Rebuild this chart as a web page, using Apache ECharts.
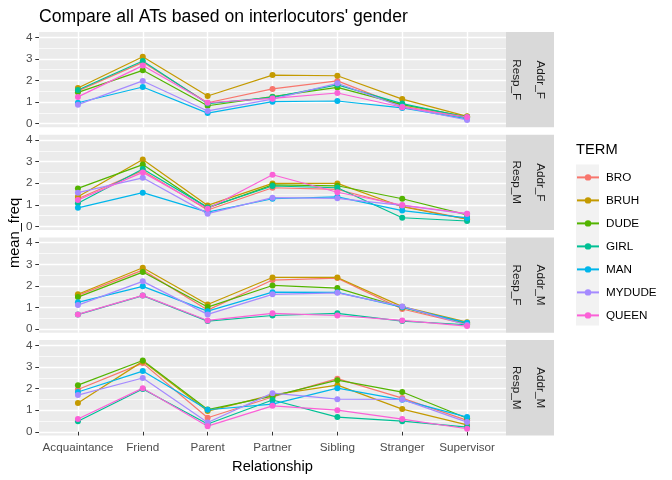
<!DOCTYPE html>
<html lang="en">
<head>
    <meta charset="UTF-8">
    <title>Compare all ATs</title>
    <script src="https://cdn.jsdelivr.net/npm/echarts@6/dist/echarts.min.js"></script>
    <style>
        body { margin: 0; background: #ffffff; }
        #chart { width: 672px; height: 480px; }
    </style>
</head>
<body>
    <div id="chart"></div>
    <script>
        // categories on the x axis
        const relationships = ['Acquaintance', 'Friend', 'Parent', 'Partner', 'Sibling', 'Stranger', 'Supervisor'];
        const terms = ['BRO', 'BRUH', 'DUDE', 'GIRL', 'MAN', 'MYDUDE', 'QUEEN'];
        const termColors = ['#F8766D', '#C49A00', '#53B400', '#00C094', '#00B6EB', '#A58AFF', '#FB61D7'];
        const yTicks = [0, 1, 2, 3, 4];
        const yMinorTicks = [0.5, 1.5, 2.5, 3.5];

        // facet strips: [Resp, Addr]
        const facets = [['Resp_F', 'Addr_F'], ['Resp_M', 'Addr_F'], ['Resp_F', 'Addr_M'], ['Resp_M', 'Addr_M']];

        // mean_freq per term, one array per facet (order of relationships)
        const addrF_respF = {
            BRO:    [1.52, 2.84, 0.97, 1.61, 1.98, 0.82, 0.27],
            BRUH:   [1.65, 3.10, 1.28, 2.25, 2.22, 1.14, 0.34],
            DUDE:   [1.45, 2.47, 0.83, 1.25, 1.68, 0.88, 0.32],
            GIRL:   [1.56, 2.90, 0.93, 1.22, 1.80, 0.93, 0.29],
            MAN:    [0.97, 1.70, 0.49, 1.02, 1.05, 0.73, 0.22],
            MYDUDE: [0.88, 1.98, 0.59, 1.14, 1.87, 0.78, 0.17],
            QUEEN:  [1.24, 2.69, 0.97, 1.17, 1.42, 0.76, 0.31]
        };
        const addrF_respM = {
            BRO:    [1.28, 2.58, 0.76, 1.79, 1.71, 0.94, 0.34],
            BRUH:   [1.37, 3.10, 0.97, 1.99, 1.99, 0.91, 0.33],
            DUDE:   [1.76, 2.86, 0.85, 1.92, 1.88, 1.28, 0.53],
            GIRL:   [1.07, 2.66, 0.88, 1.87, 1.79, 0.40, 0.25],
            MAN:    [0.86, 1.56, 0.66, 1.28, 1.37, 0.73, 0.39],
            MYDUDE: [1.56, 2.25, 0.59, 1.33, 1.30, 0.97, 0.58],
            QUEEN:  [1.22, 2.50, 0.82, 2.39, 1.58, 0.99, 0.59]
        };
        const addrM_respF = {
            BRO:    [1.56, 2.73, 0.88, 2.27, 2.36, 0.93, 0.22],
            BRUH:   [1.61, 2.84, 1.14, 2.39, 2.39, 1.04, 0.32],
            DUDE:   [1.48, 2.64, 1.02, 2.02, 1.90, 1.00, 0.26],
            GIRL:   [0.67, 1.55, 0.37, 0.63, 0.73, 0.37, 0.20],
            MAN:    [1.24, 1.98, 0.83, 1.71, 1.70, 1.02, 0.29],
            MYDUDE: [1.11, 2.21, 0.68, 1.61, 1.68, 1.05, 0.19],
            QUEEN:  [0.68, 1.56, 0.40, 0.73, 0.63, 0.40, 0.14]
        };
        const addrM_respM = {
            BRO:    [1.96, 3.18, 0.65, 1.61, 2.46, 1.56, 0.53],
            BRUH:   [1.33, 3.26, 0.96, 1.71, 2.16, 1.05, 0.32],
            DUDE:   [2.16, 3.30, 1.03, 1.65, 2.39, 1.84, 0.63],
            GIRL:   [0.49, 1.98, 0.36, 1.47, 0.68, 0.49, 0.22],
            MAN:    [1.84, 2.81, 1.02, 1.28, 2.02, 1.48, 0.68],
            MYDUDE: [1.70, 2.49, 0.43, 1.79, 1.51, 1.50, 0.45],
            QUEEN:  [0.59, 2.02, 0.26, 1.20, 1.00, 0.59, 0.14]
        };
        const panelData = [addrF_respF, addrF_respM, addrM_respF, addrM_respM];

        const chart = echarts.init(document.getElementById('chart'), null, { renderer: 'canvas' });

        const panelLeft = 39, panelWidth = 467, panelTop = 32, panelHeight = 95.3, panelStep = 102.7;
        const yMin = -0.167, yMax = 4.245;
        const xPos = relationships.map((r, i) => i + 1);

        const grids = [], xAxes = [], yAxes = [], series = [], graphics = [];

        facets.forEach((f, p) => {
            const top = panelTop + p * panelStep;
            grids.push({
                left: panelLeft, top: top, width: panelWidth, height: panelHeight,
                show: true, backgroundColor: '#EBEBEB', borderWidth: 0
            });
            const isBottom = p === facets.length - 1;
            xAxes.push({
                type: 'value', gridIndex: p, min: 0.4, max: 7.6, position: 'bottom',
                axisLine: { show: false },
                axisTick: { show: isBottom, length: 3.7, lineStyle: { color: '#333333', width: 1 }, customValues: xPos },
                axisLabel: {
                    show: isBottom, customValues: xPos, margin: 6,
                    color: '#4D4D4D', fontSize: 11.7, fontFamily: 'Liberation Sans, Arial',
                    formatter: v => relationships[Math.round(v) - 1] || ''
                },
                splitLine: { show: true, lineStyle: { color: '#FFFFFF', width: 1.4 } },
                name: isBottom ? 'Relationship' : '',
                nameLocation: 'middle', nameGap: 24,
                nameTextStyle: { color: '#000000', fontSize: 14.7, fontFamily: 'Liberation Sans, Arial' }
            });
            // minor grid lines
            yAxes.push({
                type: 'value', gridIndex: p, min: yMin, max: yMax, position: 'left',
                axisLine: { show: false }, axisTick: { show: false, customValues: yMinorTicks },
                axisLabel: { show: false, customValues: yMinorTicks },
                splitLine: { show: true, lineStyle: { color: '#FFFFFF', width: 0.7 } }
            });
            // major grid lines with labels
            yAxes.push({
                type: 'value', gridIndex: p, min: yMin, max: yMax, position: 'left', offset: 0,
                axisLine: { show: false },
                axisTick: { show: true, length: 3.7, lineStyle: { color: '#333333', width: 1 }, customValues: yTicks },
                axisLabel: {
                    customValues: yTicks, margin: 6.5,
                    color: '#4D4D4D', fontSize: 11.7, fontFamily: 'Liberation Sans, Arial'
                },
                splitLine: { show: true, lineStyle: { color: '#FFFFFF', width: 1.4 } }
            });

            terms.forEach((t, k) => {
                series.push({
                    name: t, type: 'line', xAxisIndex: p, yAxisIndex: p * 2 + 1,
                    data: panelData[p][t].map((v, i) => [xPos[i], v]),
                    symbol: 'circle', symbolSize: 6,
                    itemStyle: { color: termColors[k] },
                    lineStyle: { color: termColors[k], width: 1.2 },
                    emphasis: { disabled: true }, silent: true
                });
            });

            // facet strip
            graphics.push({
                type: 'rect', shape: { x: 506, y: top, width: 48, height: panelHeight },
                style: { fill: '#D9D9D9' }, silent: true
            });
            graphics.push({
                type: 'text', x: 516, y: top + panelHeight / 2, rotation: -Math.PI / 2,
                style: { text: f[0], fill: '#1A1A1A', font: '11.7px Liberation Sans, Arial', align: 'center', verticalAlign: 'middle' }
            });
            graphics.push({
                type: 'text', x: 540, y: top + panelHeight / 2, rotation: -Math.PI / 2,
                style: { text: f[1], fill: '#1A1A1A', font: '11.7px Liberation Sans, Arial', align: 'center', verticalAlign: 'middle' }
            });
        });

        // y axis title
        graphics.push({
            type: 'text', x: 15, y: 233, rotation: Math.PI / 2,
            style: { text: 'mean_freq', fill: '#000000', font: '14.7px Liberation Sans, Arial', align: 'center', verticalAlign: 'middle' }
        });
        // legend title and key background
        graphics.push({
            type: 'text', x: 576, y: 150,
            style: { text: 'TERM', fill: '#000000', font: '14.7px Liberation Sans, Arial', align: 'left', verticalAlign: 'middle' }
        });
        graphics.push({
            type: 'rect', shape: { x: 576, y: 164.5, width: 23, height: 161 },
            style: { fill: '#F2F2F2' }, silent: true, z: -1
        });

        const option = {
            animation: false,
            backgroundColor: '#FFFFFF',
            title: {
                text: "Compare all ATs based on interlocutors' gender",
                left: 34, top: 3,
                textStyle: { color: '#000000', fontSize: 17.6, fontWeight: 'normal', fontFamily: 'Liberation Sans, Arial' }
            },
            legend: {
                data: terms, orient: 'vertical', left: 576, top: 171.4, padding: 0,
                itemWidth: 22, itemHeight: 8, itemGap: 11,
                textStyle: { color: '#000000', fontSize: 11.7, fontFamily: 'Liberation Sans, Arial', padding: [0, 0, 0, 2] },
                selectedMode: false
            },
            grid: grids,
            xAxis: xAxes,
            yAxis: yAxes,
            series: series,
            graphic: graphics
        };
        chart.setOption(option);
    </script>
</body>
</html>
